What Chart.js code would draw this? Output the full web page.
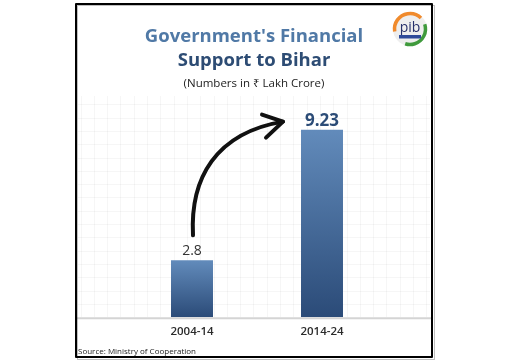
<!DOCTYPE html>
<html>
<head>
<meta charset="utf-8">
<script src="https://cdn.jsdelivr.net/npm/chart.js@4/dist/chart.umd.min.js"></script>
<style>
  html, body { margin: 0; padding: 0; background: #ffffff; }
  #wrap { width: 518px; height: 361px; position: relative; }
</style>
</head>
<body>
<div id="wrap"><canvas id="c" width="518" height="361"></canvas></div>
<script>
// ---- data ----
const categories = ['2004-14', '2014-24'];
const support = [2.8, 9.23];
const valueLabels = ['2.8', '9.23'];
const titleLines = ["Government's Financial", 'Support to Bihar'];
const subtitleText = '(Numbers in ₹ Lakh Crore)';
const sourceText = 'Source: Ministry of Cooperation';

const FONT = "'Open Sans', 'Noto Sans', sans-serif";

function barGradient(ctx) {
  const chart = ctx.chart;
  const area = chart.chartArea;
  if (!area || ctx.dataIndex === undefined) return '#44679a';
  const ys = chart.scales.y;
  const top = ys.getPixelForValue(support[ctx.dataIndex]);
  const bot = ys.getPixelForValue(0);
  const g = chart.ctx.createLinearGradient(0, top, 0, bot);
  g.addColorStop(0, '#628bbb');
  g.addColorStop(1, '#2b4b78');
  return g;
}

const decor = {
  id: 'decor',
  beforeDraw(chart) {
    const c = chart.ctx;
    c.save();
    c.fillStyle = '#ffffff';
    c.fillRect(0, 0, chart.width, chart.height);
    // faint background grid
    c.strokeStyle = 'rgba(0,0,0,0.035)';
    c.lineWidth = 1;
    const gx0 = 78, gx1 = 430, gy0 = 96, gy1 = chart.scales.y.getPixelForValue(0);
    for (let x = 80.5; x <= gx1; x += 13.3) {
      c.beginPath(); c.moveTo(Math.round(x) + 0.5, gy0); c.lineTo(Math.round(x) + 0.5, gy1); c.stroke();
    }
    for (let y = gy1 - 13.3; y >= gy0; y -= 13.3) {
      c.beginPath(); c.moveTo(gx0, Math.round(y) + 0.5); c.lineTo(gx1, Math.round(y) + 0.5); c.stroke();
    }
    c.restore();
  },
  afterDraw(chart) {
    const c = chart.ctx;
    const meta = chart.getDatasetMeta(0);
    const b1 = meta.data[0], b2 = meta.data[1];
    const base = chart.scales.y.getPixelForValue(0);
    c.save();
    // baseline
    c.strokeStyle = '#d4d4d4';
    c.lineWidth = 2;
    c.beginPath(); c.moveTo(76, base + 1); c.lineTo(432, base + 1); c.stroke();

    // value labels
    c.textAlign = 'center';
    c.textBaseline = 'alphabetic';
    c.fillStyle = '#333333';
    c.font = '400 14px ' + FONT;
    c.fillText(valueLabels[0], b1.x, b1.y - 5);
    c.fillStyle = '#2c4c77';
    c.font = '700 17px ' + FONT;
    c.fillText(valueLabels[1], b2.x, b2.y - 4);

    // arrow
    const sx = b1.x + 1, sy = b1.y - 25;
    const ex = b2.x - b2.width / 2 - 18, ey = b2.y - 8;
    const dx = ex - sx, dy = sy - ey;
    c.strokeStyle = '#111111';
    c.lineWidth = 4;
    c.lineCap = 'round';
    c.lineJoin = 'round';
    c.beginPath();
    c.moveTo(sx, sy);
    c.bezierCurveTo(sx - 3, sy - 0.5 * dy, sx + 0.25 * dx, ey + 0.1 * dy, ex, ey);
    c.stroke();
    c.beginPath();
    c.moveTo(ex - 21, ey - 7);
    c.lineTo(ex, ey);
    c.lineTo(ex - 17, ey + 16);
    c.stroke();

    // titles
    c.textAlign = 'center';
    c.fillStyle = '#5079a6';
    c.font = '700 18.5px ' + FONT;
    c.fillText(titleLines[0], 254, 42);
    c.fillStyle = '#2d4c74';
    c.fillText(titleLines[1], 254, 66);
    c.fillStyle = '#222222';
    c.font = '400 11.5px ' + FONT;
    c.fillText(subtitleText, 254, 87);

    // source
    c.textAlign = 'left';
    c.font = '400 8px ' + FONT;
    c.fillStyle = '#222222';
    c.fillText(sourceText, 78, 354);

    // logo
    const lx = 410, ly = 29, r = 17;
    c.fillStyle = '#eeeeee';
    c.beginPath(); c.arc(lx, ly, r, 0, Math.PI * 2); c.fill();
    c.lineWidth = 3.5;
    c.lineCap = 'butt';
    c.strokeStyle = '#f08a2c';
    c.beginPath(); c.arc(lx, ly, r - 1.5, Math.PI * 0.95, Math.PI * 1.75); c.stroke();
    c.strokeStyle = '#3f9a3c';
    c.beginPath(); c.arc(lx, ly, r - 1.5, -Math.PI * 0.1, Math.PI * 0.6); c.stroke();
    c.fillStyle = '#27316b';
    c.font = '400 14px ' + FONT;
    c.textAlign = 'center';
    c.fillText('pib', lx, ly + 3);
    c.fillStyle = '#2e4a9a';
    c.fillRect(lx - 11, ly + 6, 22, 3.5);

    // frame
    c.strokeStyle = 'rgba(0,0,0,0.25)';
    c.lineWidth = 1;
    c.strokeRect(77.5, 5.5, 357, 354);
    c.strokeStyle = '#000000';
    c.lineWidth = 2;
    c.strokeRect(76, 4, 356, 353);
    c.restore();
  }
};

new Chart(document.getElementById('c'), {
  type: 'bar',
  data: {
    labels: categories,
    datasets: [{
      data: support,
      backgroundColor: barGradient,
      borderWidth: 0,
      categoryPercentage: 1,
      barPercentage: 0.323
    }]
  },
  options: {
    responsive: false,
    animation: false,
    devicePixelRatio: 1,
    layout: { padding: { top: 114, bottom: 14, left: 127, right: 131 } },
    plugins: { legend: { display: false }, tooltip: { enabled: false }, title: { display: false } },
    scales: {
      y: { display: false, min: 0, max: 10 },
      x: {
        grid: { display: false, drawTicks: false },
        border: { display: false },
        ticks: { color: '#2b2b2b', padding: 8, font: { family: FONT, size: 11.5, weight: '600' } }
      }
    }
  },
  plugins: [decor]
});
</script>
</body>
</html>
